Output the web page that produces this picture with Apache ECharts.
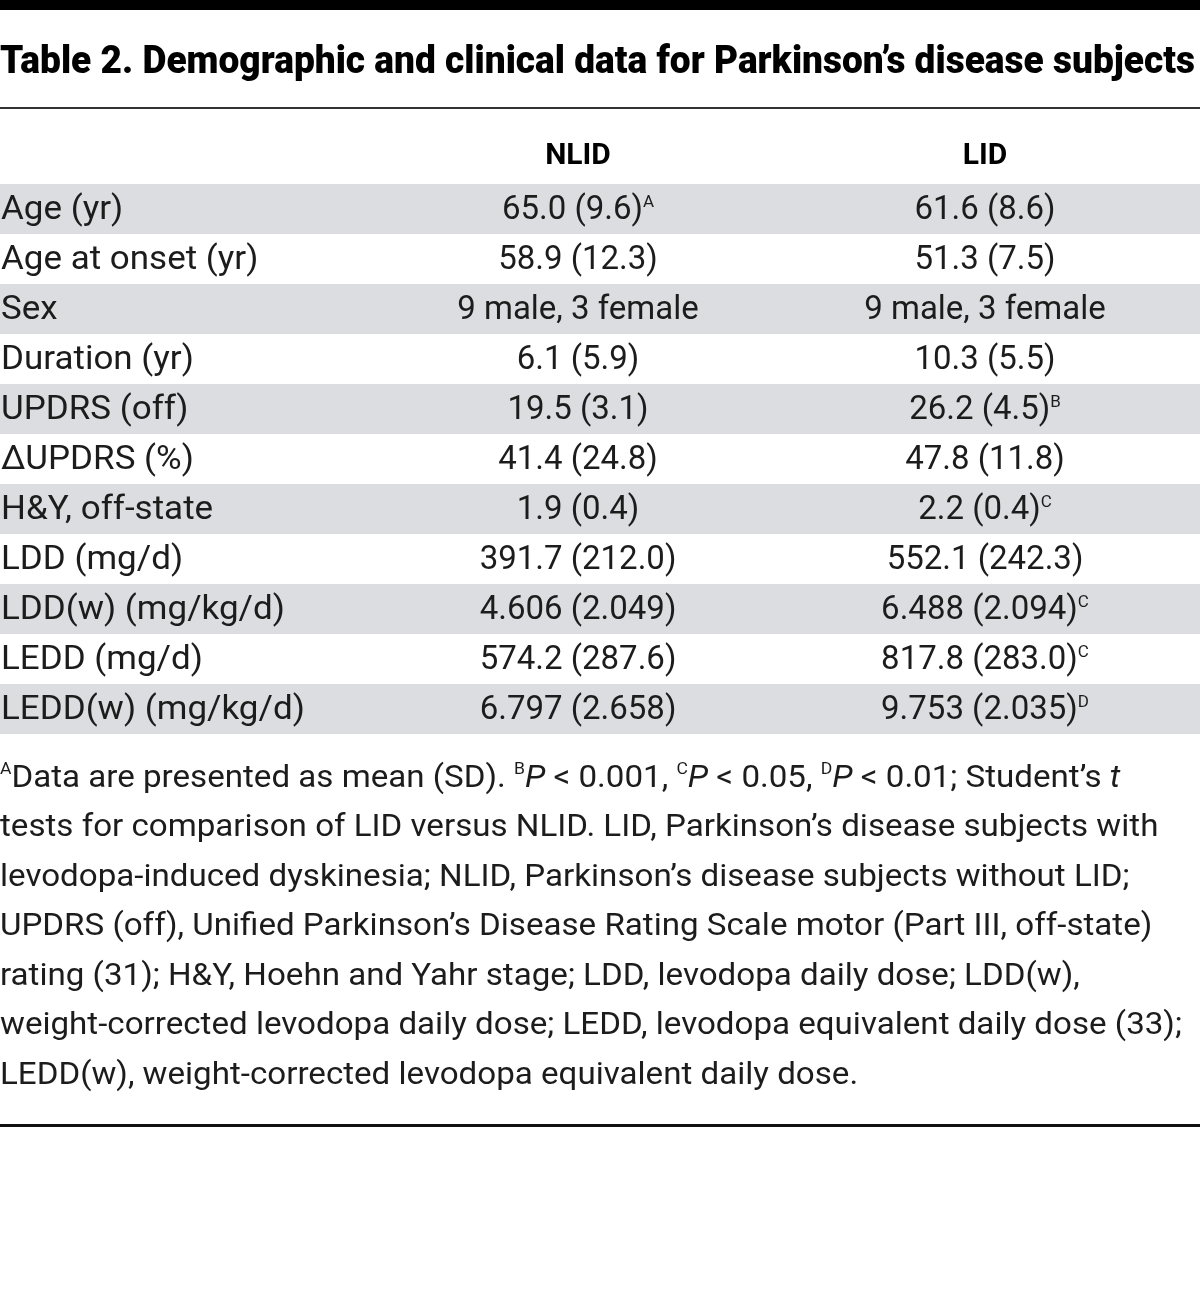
<!DOCTYPE html>
<html>
<head>
<meta charset="utf-8">
<script src="https://cdn.jsdelivr.net/npm/echarts@6/dist/echarts.min.js"></script>
<style>
html, body { margin: 0; padding: 0; background: #ffffff; }
#chart { width: 1200px; height: 1296px; }
</style>
</head>
<body>
<div id="chart"></div>
<script>
// ---------------- data ----------------
const titleText = 'Table 2. Demographic and clinical data for Parkinson’s disease subjects';
const columnHeaders = ['NLID', 'LID'];
const rowLabels = [
  'Age (yr)', 'Age at onset (yr)', 'Sex', 'Duration (yr)', 'UPDRS (off)', '∆UPDRS (%)',
  'H&Y, off-state', 'LDD (mg/d)', 'LDD(w) (mg/kg/d)', 'LEDD (mg/d)', 'LEDD(w) (mg/kg/d)'
];
const nlidValues = [
  '65.0 (9.6)', '58.9 (12.3)', '9 male, 3 female', '6.1 (5.9)', '19.5 (3.1)', '41.4 (24.8)',
  '1.9 (0.4)', '391.7 (212.0)', '4.606 (2.049)', '574.2 (287.6)', '6.797 (2.658)'
];
const nlidMarks = ['A', '', '', '', '', '', '', '', '', '', ''];
const lidValues = [
  '61.6 (8.6)', '51.3 (7.5)', '9 male, 3 female', '10.3 (5.5)', '26.2 (4.5)', '47.8 (11.8)',
  '2.2 (0.4)', '552.1 (242.3)', '6.488 (2.094)', '817.8 (283.0)', '9.753 (2.035)'
];
const lidMarks = ['', '', '', '', 'B', '', 'C', '', 'C', 'C', 'D'];
const footnoteLines = [
  '{s|A}Data are presented as mean (SD). {s|B}{i|P} < 0.001, {s|C}{i|P} < 0.05, {s|D}{i|P} < 0.01; Student’s {i|t}',
  'tests for comparison of LID versus NLID. LID, Parkinson’s disease subjects with',
  'levodopa-induced dyskinesia; NLID, Parkinson’s disease subjects without LID;',
  'UPDRS (off), Unified Parkinson’s Disease Rating Scale motor (Part III, off-state)',
  'rating (31); H&Y, Hoehn and Yahr stage; LDD, levodopa daily dose; LDD(w),',
  'weight-corrected levodopa daily dose; LEDD, levodopa equivalent daily dose (33);',
  'LEDD(w), weight-corrected levodopa equivalent daily dose.'
];

// ---------------- layout / style ----------------
const FONT = 'Roboto';
const TEXT = '#1c1c1c';
const BAND = '#dcdde0';
const COL_NLID = 578;
const COL_LID = 985;
const LABEL_SCALE = 1.06;
const FOOT_SCALE = 1.035;

function measure(text, font) {
  const c = document.createElement('canvas').getContext('2d');
  c.font = font;
  return c.measureText(text).width;
}
const titleFontSize = 38;
const titleWeight = 900;
const titleScale = 1195 / measure(titleText, titleWeight + ' ' + titleFontSize + 'px ' + FONT);

const categories = ['header'].concat(rowLabels);
const seriesData = categories.map(function (c, i) { return [0, i]; });

function valueRich(val, mark) {
  return '{v|' + val + '}' + (mark ? '{s|' + mark + '}' : '');
}
const valueRichStyles = {
  v: { fontFamily: FONT, fontSize: 33, lineHeight: 34, fill: TEXT },
  s: { fontFamily: FONT, fontSize: 17, lineHeight: 20, height: 17, verticalAlign: 'top', fill: TEXT }
};

function renderItem(params, api) {
  const i = api.value(1);
  const c0 = api.coord([0, i]);
  const cEnd = api.coord([1200, i]);
  const h = api.size([0, 1])[1];
  const y = c0[1];
  const xN = api.coord([COL_NLID, i])[0];
  const xL = api.coord([COL_LID, i])[0];
  const children = [];
  if (i === 0) {
    [xN, xL].forEach(function (x, k) {
      children.push({
        type: 'text',
        style: {
          x: x, y: y - 3, text: columnHeaders[k], align: 'center', verticalAlign: 'middle',
          fontFamily: FONT, fontWeight: 'bold', fontSize: 30, fill: '#000000'
        }
      });
    });
  } else {
    const r = i - 1;
    if (r % 2 === 0) {
      children.push({
        type: 'rect',
        shape: { x: c0[0], y: y - h / 2, width: cEnd[0] - c0[0], height: h },
        style: { fill: BAND }
      });
    }
    children.push({
      type: 'text',
      x: c0[0] + 1, y: y + 2, scaleX: LABEL_SCALE,
      style: {
        x: 0, y: 0, text: rowLabels[r], align: 'left', verticalAlign: 'middle',
        fontFamily: FONT, fontSize: 33, fill: TEXT
      }
    });
    children.push({
      type: 'text',
      style: {
        x: xN, y: y + 2, text: valueRich(nlidValues[r], nlidMarks[r]), align: 'center',
        verticalAlign: 'middle', rich: valueRichStyles
      }
    });
    children.push({
      type: 'text',
      style: {
        x: xL, y: y + 2, text: valueRich(lidValues[r], lidMarks[r]), align: 'center',
        verticalAlign: 'middle', rich: valueRichStyles
      }
    });
  }
  return { type: 'group', children: children };
}

const chart = echarts.init(document.getElementById('chart'), null, { renderer: 'canvas' });
chart.setOption({
  backgroundColor: '#ffffff',
  animation: false,
  grid: { left: 0, right: 0, top: 134, height: 600 },
  xAxis: { type: 'value', min: 0, max: 1200, show: false },
  yAxis: { type: 'category', data: categories, inverse: true, show: false },
  series: [{
    type: 'custom',
    renderItem: renderItem,
    encode: { x: 0, y: 1 },
    data: seriesData,
    silent: true
  }],
  graphic: [
    { type: 'rect', shape: { x: 0, y: 0, width: 1200, height: 10 }, style: { fill: '#000000' } },
    {
      type: 'text', x: 0, y: 63, scaleX: titleScale,
      style: {
        text: titleText, verticalAlign: 'middle', align: 'left',
        fontFamily: FONT, fontWeight: titleWeight, fontSize: titleFontSize, fill: '#000000'
      }
    },
    { type: 'rect', shape: { x: 0, y: 107, width: 1200, height: 2 }, style: { fill: '#333333' } },
    {
      type: 'text', x: 0, y: 754, scaleX: FOOT_SCALE,
      style: {
        text: footnoteLines.join('\n'), align: 'left', verticalAlign: 'top',
        fontFamily: FONT, fontSize: 32, lineHeight: 49.5, fill: TEXT,
        rich: {
          s: { fontFamily: FONT, fontSize: 17, lineHeight: 20, height: 32, verticalAlign: 'top', fill: TEXT },
          i: { fontFamily: FONT, fontSize: 32, lineHeight: 49.5, fontStyle: 'italic', fill: TEXT }
        }
      }
    },
    { type: 'rect', shape: { x: 0, y: 1124, width: 1200, height: 3 }, style: { fill: '#111111' } }
  ]
});
</script>
</body>
</html>
